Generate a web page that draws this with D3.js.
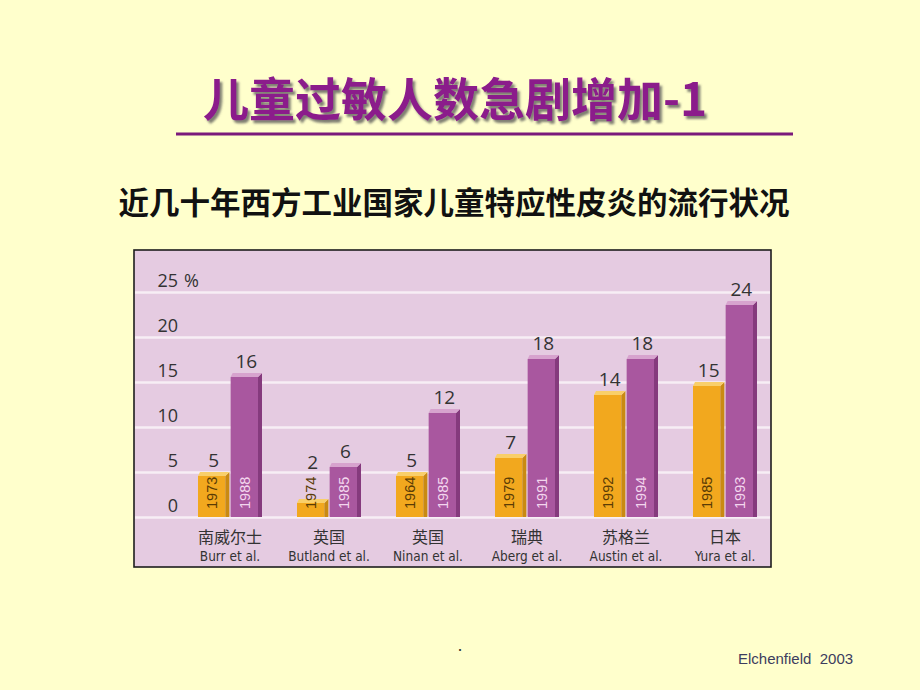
<!DOCTYPE html>
<html>
<head>
<meta charset="utf-8">
<script src="https://cdn.jsdelivr.net/npm/d3@7"></script>
<style>
  html, body { margin: 0; padding: 0; background: #FFFFCC; }
  svg { display: block; }
</style>
</head>
<body>
<svg id="chart" width="920" height="690"></svg>
<script>
// ---- data ----
const regions = ["南威尔士", "英国", "英国 ", "瑞典", "苏格兰", "日本"];
const authors = ["Burr et al.", "Butland et al.", "Ninan et al.", "Aberg et al.", "Austin et al.", "Yura et al."];
const earlyValues = [5, 2, 5, 7, 14, 15];
const earlyYears = ["1973", "1974", "1964", "1979", "1992", "1985"];
const lateValues = [16, 6, 12, 18, 18, 24];
const lateYears = ["1988", "1985", "1985", "1991", "1994", "1993"];
const yTicks = [0, 5, 10, 15, 20, 25];
const titleText = "儿童过敏人数急剧增加-1";
const subtitleText = "近几十年西方工业国家儿童特应性皮炎的流行状况";
const footerText = "Elchenfield  2003";

const svg = d3.select("#chart");
const W = 920, H = 690;
svg.append("rect").attr("width", W).attr("height", H).attr("fill", "#FFFFCC");

// defs: title shadow
const defs = svg.append("defs");
const f = defs.append("filter").attr("id", "tshadow").attr("x", "-10%").attr("y", "-20%").attr("width", "130%").attr("height", "150%");
f.append("feDropShadow").attr("dx", 2.5).attr("dy", 3).attr("stdDeviation", 1.2)
  .attr("flood-color", "#555").attr("flood-opacity", 0.75);

// Title
svg.append("text")
  .attr("x", 455).attr("y", 116)
  .attr("text-anchor", "middle")
  .attr("font-family", "'Noto Sans CJK SC', sans-serif")
  .attr("font-weight", 700)
  .attr("font-size", 46)
  .attr("fill", "#8B1A8B")
  .attr("filter", "url(#tshadow)")
  .text(titleText);

svg.append("line")
  .attr("x1", 176).attr("x2", 793).attr("y1", 134).attr("y2", 134)
  .attr("stroke", "#7B1A7B").attr("stroke-width", 3);

// Subtitle
svg.append("text")
  .attr("x", 454).attr("y", 214)
  .attr("text-anchor", "middle")
  .attr("font-family", "'Noto Sans CJK SC', sans-serif")
  .attr("font-weight", 700)
  .attr("font-size", 30.5)
  .attr("fill", "#111")
  .text(subtitleText);

// Chart box
const box = {x: 134, y: 250, w: 637, h: 317};
svg.append("rect")
  .attr("x", box.x).attr("y", box.y).attr("width", box.w).attr("height", box.h)
  .attr("fill", "#E5CBE1").attr("stroke", "#1d1d1d").attr("stroke-width", 1.6);

const y = d3.scaleLinear().domain([0, 25]).range([517, 292]);

// grid + ticks via axis
const axis = d3.axisLeft(y).tickValues(yTicks).tickSize(-(box.w - 2)).tickFormat(d => d);
const gA = svg.append("g").attr("transform", `translate(${box.x + 1},0)`).call(axis);
gA.select(".domain").remove();
gA.selectAll(".tick line").attr("stroke", "#F7EEF5").attr("stroke-width", 2.4);
gA.selectAll(".tick text")
  .attr("x", 43).attr("dy", null).attr("y", -6)
  .attr("text-anchor", "end")
  .attr("font-family", "'Open Sans', 'Liberation Sans', sans-serif")
  .attr("font-size", 18)
  .attr("fill", "#333");
gA.selectAll(".tick").filter(d => d === 25).append("text")
  .attr("x", 49).attr("y", -6)
  .attr("text-anchor", "start")
  .attr("font-family", "'Open Sans', 'Liberation Sans', sans-serif")
  .attr("font-size", 18).attr("fill", "#333")
  .text("%");

// x scales
const x0 = d3.scaleBand().domain(regions).range([180.5, 774.5]);
const x1 = d3.scaleBand().domain([0, 1]).range([-32, 32]).paddingInner(0.04);

const base = y(0);
const series = [
  {vals: earlyValues, years: earlyYears, front: "#F2A81E", side: "#C98A12", top: "#F9CF6A", yearColor: "#5A3C05"},
  {vals: lateValues, years: lateYears, front: "#A9579F", side: "#853A7D", top: "#D7A3CE", yearColor: "#F3D6EE"}
];

const yearLen = 31;
const g = svg.append("g");
regions.forEach((r, i) => {
  const cx = x0(r) + x0.bandwidth() / 2;
  series.forEach((s, k) => {
    const v = s.vals[i];
    const left = cx + x1(k);
    const bw = x1.bandwidth();
    const sw = 4, bh = 4;
    const fw = bw - sw;
    const top = y(v);
    // front
    g.append("rect").attr("x", left).attr("y", top + bh).attr("width", fw).attr("height", base - top - bh)
      .attr("fill", s.front);
    // side
    g.append("path").attr("d", `M${left + fw},${top + bh} L${left + bw},${top} L${left + bw},${base} L${left + fw},${base} Z`)
      .attr("fill", s.side);
    // top bevel
    g.append("path").attr("d", `M${left},${top + bh} L${left + 2},${top} L${left + bw},${top} L${left + fw},${top + bh} Z`)
      .attr("fill", s.top);
    // year label
    const tx = left + fw / 2 + 0.5, ty = base - 8;
    g.append("text")
      .attr("transform", `translate(${tx},${ty}) rotate(-90)`)
      .attr("dominant-baseline", "central")
      .attr("font-family", "'Liberation Sans', Arial, sans-serif")
      .attr("font-size", 14.5)
      .attr("fill", s.yearColor)
      .text(s.years[i]);
    // value label
    const lblY = Math.min(top - 5, ty - yearLen - 9);
    g.append("text")
      .attr("x", left + bw / 2).attr("y", lblY)
      .attr("text-anchor", "middle")
      .attr("font-family", "'Open Sans', 'Liberation Sans', sans-serif")
      .attr("font-size", 19)
      .attr("fill", "#333")
      .text(v);
  });
  // category labels
  g.append("text").attr("x", cx).attr("y", 543).attr("text-anchor", "middle")
    .attr("font-family", "'Noto Sans CJK SC', sans-serif").attr("font-size", 16).attr("fill", "#333")
    .text(r.trim());
  g.append("text").attr("x", cx).attr("y", 561).attr("text-anchor", "middle")
    .attr("font-family", "'Liberation Sans Narrow', 'DejaVu Sans Condensed', sans-serif")
    .attr("font-size", 13.5).attr("fill", "#333")
    .text(authors[i]);
});

// footer
svg.append("text").attr("x", 460).attr("y", 651).attr("text-anchor", "middle")
  .attr("font-family", "'Liberation Sans', sans-serif").attr("font-size", 18).attr("fill", "#333").text(".");
svg.append("text").attr("x", 738).attr("y", 664)
  .attr("font-family", "'Liberation Sans', Arial, sans-serif").attr("font-size", 15).attr("fill", "#3C3C5E")
  .style("white-space", "pre")
  .text(footerText);
</script>
</body>
</html>
